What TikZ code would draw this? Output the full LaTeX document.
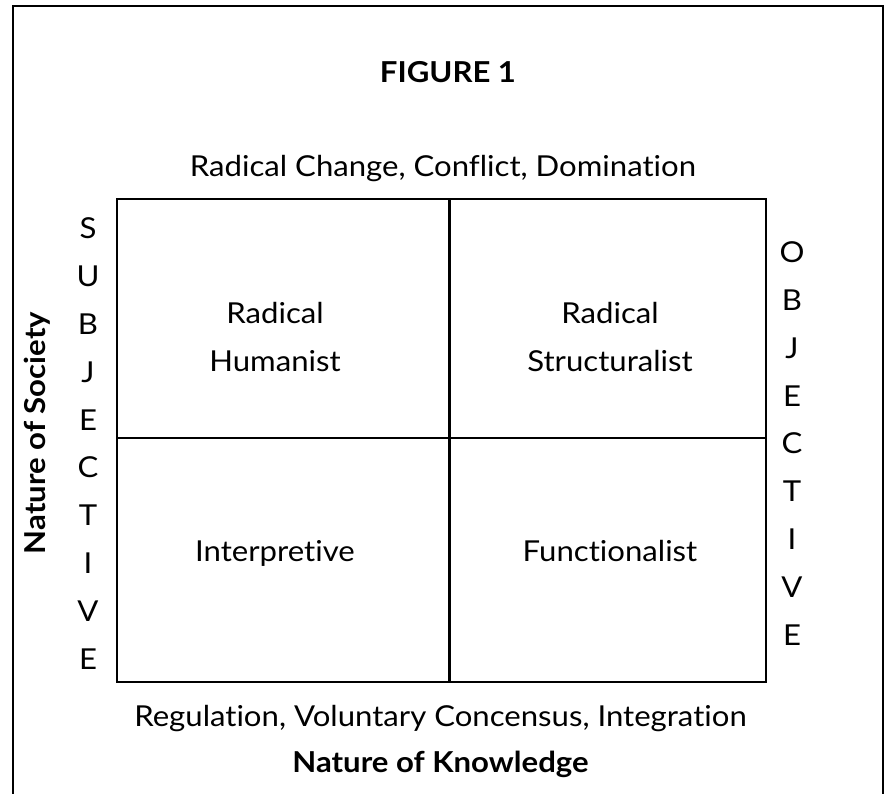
\documentclass[tikz,border=0pt]{standalone}
\usepackage{fontspec}
\setmainfont{Lato}[Ligatures={NoCommon}, FakeStretch=1.08]

\begin{document}
\begin{tikzpicture}[
		txt/.style={font=\fontsize{20.5}{34}\selectfont, inner sep=0pt},
		hd/.style={font=\fontsize{20.5}{34}\selectfont\bfseries, inner sep=0pt},
		grid/.style={line width=1.5pt}]
		\useasboundingbox (0,0) rectangle (22.1,19.85);

		% frame round the figure, open at the foot
		\draw[line width=1.8pt] (0.325,-0.2) -- (0.325,19.7) -- (22.075,19.7) -- (22.075,-0.2);

		\node[hd,anchor=base] (fig) at (11.2,17.775) {FIGURE 1};
		\node[txt,anchor=base] (change) at (11.075,15.425) {Radical Change, Conflict, Domination};

		% the four paradigms
		\draw[grid] (2.925,2.8) rectangle (19.15,14.875);
		\draw[grid] (11.2375,2.8) -- (11.2375,14.875);
		\draw[grid] (2.925,8.9) -- (19.15,8.9);

		\node[txt,align=center] (humanist) at (6.875,11.425) {Radical\\Humanist};
		\node[txt,align=center] (structuralist) at (15.25,11.425) {Radical\\Structuralist};
		\node[txt,anchor=base] (interpretive) at (6.875,5.8) {Interpretive};
		\node[txt,anchor=base] (functionalist) at (15.25,5.8) {Functionalist};

		% the two ends of the subjective - objective axis
		\node[txt,align=center] (subj) at (2.2,8.7625) {S\\U\\B\\J\\E\\C\\T\\I\\V\\E};
		\node[txt,align=center] (obj) at (19.8,8.7625) {O\\B\\J\\E\\C\\T\\I\\V\\E};

		\node[txt,anchor=base] (regulation) at (11.0125,1.675) {Regulation, Voluntary Concensus, Integration};
		\node[hd,anchor=base] (knowledge) at (11.0125,0.525) {Nature of Knowledge};
		\node[hd,rotate=90,anchor=base] (society) at (1.125,9.025) {Nature of Society};
	\end{tikzpicture}
\end{document}
